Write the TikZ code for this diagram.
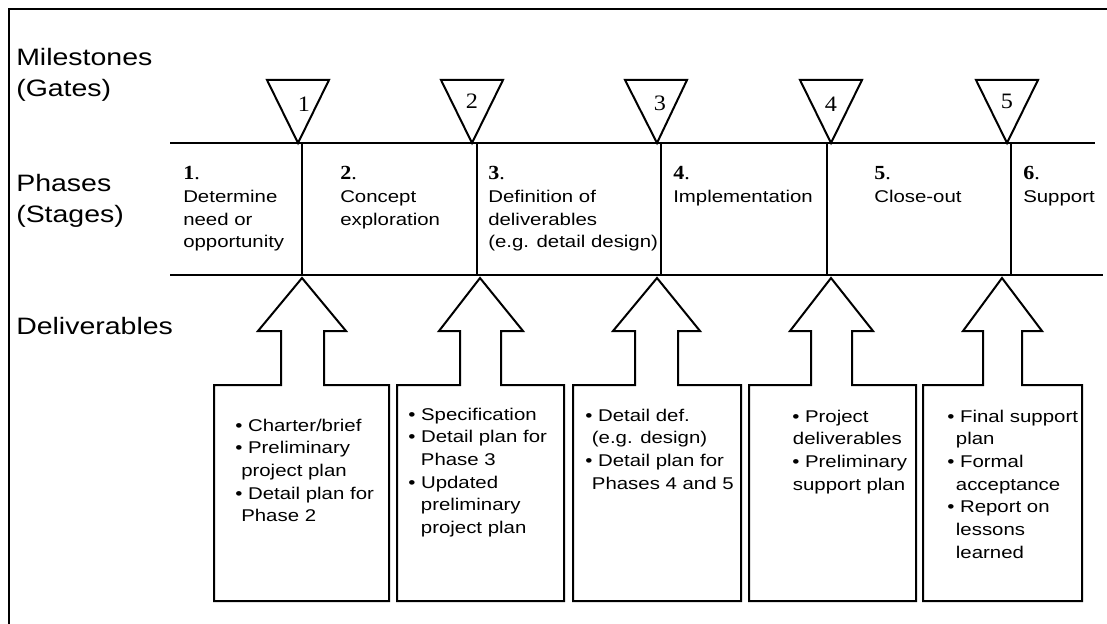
\documentclass[tikz,border=0pt]{standalone}
\usepackage{fontspec}
\setmainfont{Liberation Sans}[FakeStretch=1.2]
\newfontfamily\numfont{Liberation Serif}[FakeStretch=1.1]

% a stack of left-aligned lines whose baseline is that of the first line
\newcommand\rows[1]{\begin{tabular}[t]{@{}l@{}}#1\end{tabular}}
% hanging indent of the continuation lines, set per box
\newlength\indw
\newcommand\ind{\hspace*{\indw}}
\newcommand\pnum[1]{{\numfont\fontsize{15pt}{15pt}\selectfont\textbf{#1}.}}
\newcommand\bul{\textbullet\ }

\begin{document}
\begin{tikzpicture}[x=0.75pt,y=-0.75pt,
  frame/.style={line width=1.7pt},
  rule/.style={line width=1.5pt},
  outline/.style={draw,line width=1.5pt},
  side/.style={anchor=base west,inner sep=0pt,font=\fontsize{17.8pt}{23.25pt}\selectfont},
  phase/.style={anchor=base west,inner sep=0pt,font=\fontsize{12.75pt}{17pt}\selectfont},
  dlv/.style={anchor=base west,inner sep=0pt,font=\fontsize{12.75pt}{17pt}\selectfont},
  gnum/.style={anchor=center,inner sep=0pt,font=\numfont\fontsize{16.5pt}{16.5pt}\selectfont}]
\useasboundingbox (0,0) rectangle (1107,624);

% outer frame (left and top edges)
\draw[frame] (9,630) -- (9,9) -- (1110,9);

% row labels
\node[side] (ms) at (16,66)  {\rows{Milestones\\(Gates)}};
\node[side] (ph) at (16,192) {\rows{Phases\\(Stages)}};
\node[side] (dl) at (16,334) {Deliverables};

% phase band
\draw[rule] (170,143) -- (1095,143);
\draw[rule] (170,275) -- (1103,275);
\foreach \x in {302,477,661,827,1011}
  \draw[rule] (\x,143) -- (\x,275);

% milestone gates
\foreach \c/\a in {298/298,472/472,656/657,831/831,1007/1007}
  \draw[outline] (\c-31,80) -- (\c+31,80) -- (\a,143) -- cycle;
\node[gnum] (g1) at (304,104.5) {1};
\node[gnum] (g2) at (472,101)   {2};
\node[gnum] (g3) at (660,103)   {3};
\node[gnum] (g4) at (831,104)   {4};
\node[gnum] (g5) at (1007,101)  {5};

% phase names
\node[phase] (p1) at (183,180)  {\rows{\pnum{1}\\Determine\\need or\\opportunity}};
\node[phase] (p2) at (340,180)  {\rows{\pnum{2}\\Concept\\exploration}};
\node[phase] (p3) at (488,180)  {\rows{\pnum{3}\\Definition of\\deliverables\\(e.g. detail design)}};
\node[phase] (p4) at (673,180)  {\rows{\pnum{4}\\Implementation}};
\node[phase] (p5) at (874,180)  {\rows{\pnum{5}\\Close-out}};
\node[phase] (p6) at (1023,180) {\rows{\pnum{6}\\Support}};

% deliverable boxes, each joined to an arrow pointing up at its gate
% apex / head left / head right / shaft left / shaft right / box left / box right
\foreach \ap/\hl/\hr/\sl/\sr/\bl/\br in {
    302/258/346/281/324/214/389,
    480/439/523/460/501/397/564,
    657/613/700/635/678/573/741,
    831/790/873/811/852/749/916,
    1002/963/1042/983/1022/923/1082}
  \draw[outline] (\bl,601) -- (\bl,385) -- (\sl,385) -- (\sl,331) -- (\hl,331)
    -- (\ap,278) -- (\hr,331) -- (\sr,331) -- (\sr,385) -- (\br,385)
    -- (\br,601) -- cycle;

\node[dlv] (d1) at (235,431) {\setlength\indw{4.5pt}\rows{\bul Charter/brief\\\bul Preliminary\\\ind project plan\\\bul Detail plan for\\\ind Phase 2}};
\node[dlv] (d2) at (408,420) {\setlength\indw{9.5pt}\rows{\bul Specification\\\bul Detail plan for\\\ind Phase 3\\\bul Updated\\\ind preliminary\\\ind project plan}};
\node[dlv] (d3) at (585,421) {\setlength\indw{5pt}\rows{\bul Detail def.\\\ind (e.g. design)\\\bul Detail plan for\\\ind Phases 4 and 5}};
\node[dlv] (d4) at (792,422) {\setlength\indw{0.5pt}\rows{\bul Project\\\ind deliverables\\\bul Preliminary\\\ind support plan}};
\node[dlv] (d5) at (947,422) {\setlength\indw{6.5pt}\rows{\bul Final support\\\ind plan\\\bul Formal\\\ind acceptance\\\bul Report on\\\ind lessons\\\ind learned}};
\end{tikzpicture}
\end{document}
